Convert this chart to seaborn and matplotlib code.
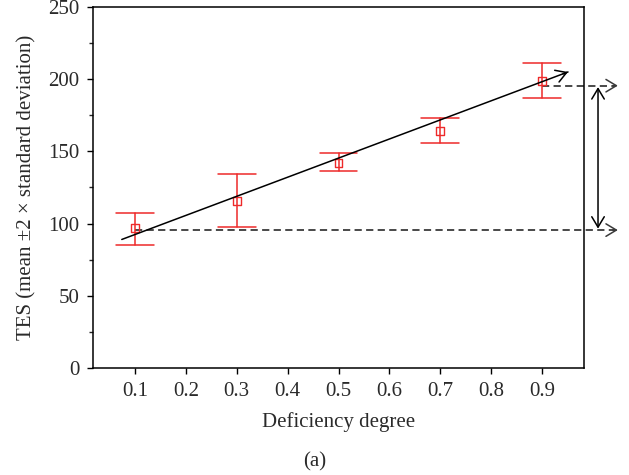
import matplotlib
matplotlib.use("Agg")
import matplotlib.pyplot as plt
import seaborn as sns
import pandas as pd

# ---- data ----
deficiency = [0.1, 0.3, 0.5, 0.7, 0.9]
tes_mean = [97, 115.5, 142, 164, 199]
tes_upper = [107.5, 134, 149, 173, 211]
tes_lower = [85, 97.5, 136.5, 155.5, 187]
fit_x = [0.074, 0.951]
fit_y = [89, 205]
ref_low = 95.5
ref_high = 195.5
xticks = [0.1, 0.2, 0.3, 0.4, 0.5, 0.6, 0.7, 0.8, 0.9]
yticks = [0, 50, 100, 150, 200, 250]

df = pd.DataFrame({"x": deficiency, "y": tes_mean})
fit_df = pd.DataFrame({"x": fit_x, "y": fit_y})

sns.set_style("ticks")
plt.rcParams["font.family"] = ["Liberation Serif", "DejaVu Serif"]

RED = "#ee2a2a"
GRAY = "#3a3a3a"
TXT = "#2a2a2a"
FS = 15

fig = plt.figure(figsize=(6.29, 4.75), dpi=100)
ax = fig.add_axes([0.1479, 0.2253, 0.7806, 0.76])

# error bars
cap = 0.037
for x, lo, hi in zip(deficiency, tes_lower, tes_upper):
    ax.plot([x, x], [lo, hi], color=RED, lw=1.1, zorder=3)
    ax.plot([x - cap, x + cap], [hi, hi], color=RED, lw=1.1, zorder=3)
    ax.plot([x - cap, x + cap], [lo, lo], color=RED, lw=1.1, zorder=3)

sns.scatterplot(data=df, x="x", y="y", marker="s", s=32, facecolors="none",
                edgecolor=RED, linewidth=1.0, ax=ax, zorder=4, legend=False)

# regression line with arrow
sns.lineplot(data=fit_df, x="x", y="y", color="black", lw=1.1, ax=ax, zorder=5)
ax.annotate("", xy=(fit_x[1], fit_y[1]), xytext=(fit_x[1] - 0.01, fit_y[1] - 1.32),
            arrowprops=dict(arrowstyle="->,head_length=0.75,head_width=0.45",
                            color="black", lw=1.1, shrinkA=0, shrinkB=0),
            annotation_clip=False)

# dashed reference lines extending outside the axes
x_end = 1.049
for x0, yv in [(deficiency[0], ref_low), (deficiency[-1], ref_high)]:
    ax.plot([x0, x_end - 0.004], [yv, yv], color=GRAY, lw=1.3,
            dashes=(4.0, 2.4), clip_on=False, zorder=2)
    ax.annotate("", xy=(x_end, yv), xytext=(x_end - 0.01, yv),
                arrowprops=dict(arrowstyle="->,head_length=0.75,head_width=0.45",
                                color=GRAY, lw=1.1, shrinkA=0, shrinkB=0),
                annotation_clip=False)

# vertical double arrow
ax.annotate("", xy=(1.010, ref_high - 1), xytext=(1.010, ref_low + 1),
            arrowprops=dict(arrowstyle="<->,head_length=0.75,head_width=0.45",
                            color="black", lw=1.1, shrinkA=0, shrinkB=0),
            annotation_clip=False)

ax.set_xlim(0.0175, 0.9825)
ax.set_ylim(0, 250)
ax.set_xticks(xticks)
ax.set_xticklabels([f"{t:.1f}" for t in xticks])
ax.set_yticks(yticks)
ax.set_yticks([25, 75, 125, 175, 225], minor=True)
ax.tick_params(axis="both", which="major", direction="out", length=4, width=1.0,
               labelsize=FS, colors="black", labelcolor=TXT)
ax.tick_params(axis="y", which="major", pad=6)
ax.tick_params(axis="x", which="major", pad=6)
ax.tick_params(axis="y", which="minor", direction="out", length=3, width=1.0)
for sp in ax.spines.values():
    sp.set_visible(True)
    sp.set_color("black")
    sp.set_linewidth(1.1)

ax.set_xlabel("Deficiency degree", fontsize=FS, color=TXT, labelpad=8)
ax.set_ylabel("TES (mean ±2 × standard deviation)", fontsize=FS, color=TXT,
              labelpad=8)
fig.text(0.5, 0.027, "(a)", ha="center", va="center", fontsize=FS, color=TXT)

fig.savefig("out.png", dpi=100)
